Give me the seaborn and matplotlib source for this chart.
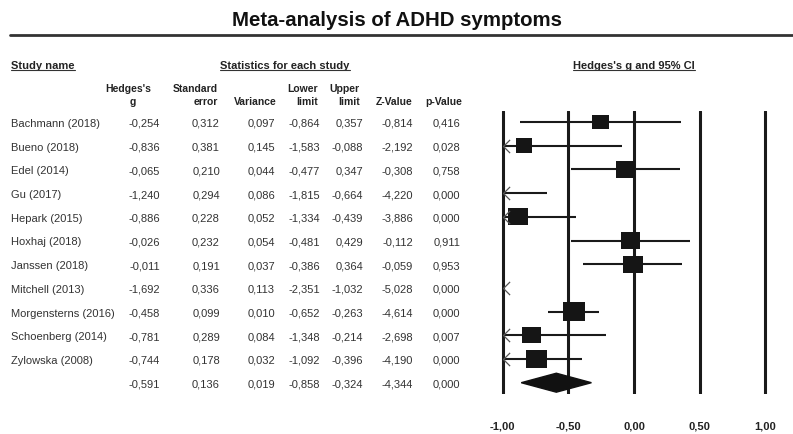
import numpy as np
import pandas as pd
import seaborn as sns
import matplotlib.pyplot as plt
from matplotlib.lines import Line2D
from matplotlib.patches import Polygon
from matplotlib.path import Path
from matplotlib.markers import MarkerStyle

studies = ["Bachmann (2018)", "Bueno (2018)", "Edel (2014)", "Gu (2017)", "Hepark (2015)",
           "Hoxhaj (2018)", "Janssen (2018)", "Mitchell (2013)", "Morgensterns (2016)",
           "Schoenberg (2014)", "Zylowska (2008)"]
hedges_g = [-0.254, -0.836, -0.065, -1.240, -0.886, -0.026, -0.011, -1.692, -0.458, -0.781, -0.744]
std_err = [0.312, 0.381, 0.210, 0.294, 0.228, 0.232, 0.191, 0.336, 0.099, 0.289, 0.178]
variance = [0.097, 0.145, 0.044, 0.086, 0.052, 0.054, 0.037, 0.113, 0.010, 0.084, 0.032]
lower = [-0.864, -1.583, -0.477, -1.815, -1.334, -0.481, -0.386, -2.351, -0.652, -1.348, -1.092]
upper = [0.357, -0.088, 0.347, -0.664, -0.439, 0.429, 0.364, -1.032, -0.263, -0.214, -0.396]
z_value = [-0.814, -2.192, -0.308, -4.220, -3.886, -0.112, -0.059, -5.028, -4.614, -2.698, -4.190]
p_value = [0.416, 0.028, 0.758, 0.000, 0.000, 0.911, 0.953, 0.000, 0.000, 0.007, 0.000]
# relative box weight (box width in px)
box_weight = [16.7, 16.7, 18.7, 18.0, 20.0, 19.0, 20.0, 18.0, 21.7, 18.3, 20.7]

summary = [-0.591, 0.136, 0.019, -0.858, -0.324, -4.344, 0.000]  # g, se, var, lower, upper, z, p

x_ticks = [-1.0, -0.5, 0.0, 0.5, 1.0]
tick_labels = ["-1,00", "-0,50", "0,00", "0,50", "1,00"]

sns.set_theme(style="white")
plt.rcParams["font.family"] = ["Liberation Sans", "DejaVu Sans"]

W, H = 793, 435
fig = plt.figure(figsize=(W / 100, H / 100), dpi=100)

# vertical layout in px
row0, step = 123, 23.7
y_top, y_bot = 111.7, 395
ylim = ((y_bot - row0) / step, (y_top - row0) / step)
def px_row(py):
    return (py - row0) / step

base = 4.0 / step  # baseline sits ~4px below the row centre

ax = fig.add_axes([496 / W, 1 - y_bot / H, 276 / W, (y_bot - y_top) / H])
tab = fig.add_axes([0, 1 - y_bot / H, 1, (y_bot - y_top) / H], zorder=-1)
tab.set_xlim(0, W)
tab.set_ylim(*ylim)
tab.axis("off")

dark = "#1a1a1a"
txt = "#333333"
VA = "baseline"

# title and rule
fig.text(0.5, 1 - 18 / H, "Meta-analysis of ADHD symptoms", ha="center", va="center_baseline",
         fontsize=14.7, fontweight="bold", color="#111111")
fig.add_artist(Line2D([10 / W, 1], [1 - 36 / H] * 2, transform=fig.transFigure,
                      color="#333333", lw=2.0))

# section headers
hk = dict(va=VA, fontsize=8, fontweight="bold", color="#222")
headers = [
    tab.text(11, px_row(65) + base, "Study name", ha="left", **hk),
    tab.text(285, px_row(65) + base, "Statistics for each study", ha="center", **hk),
    tab.text(634, px_row(65) + base, "Hedges's g and 95% CI", ha="center", **hk),
]

# column headers
col_right = [160, 220, 275, 320, 363, 413, 460]
col_head = [("Hedges's", "g"), ("Standard", "error"), ("", "Variance"), ("Lower", "limit"),
            ("Upper", "limit"), ("", "Z-Value"), ("", "p-Value")]
head_right = [148, 218, 277, 318, 360, 413, 462]
ck = dict(va=VA, fontsize=7.5, fontweight="bold", color="#222")
for (l1, l2), xr in zip(col_head, head_right):
    if l1 == "Hedges's":
        tab.text(128, px_row(88) + base, l1, ha="center", **ck)
        tab.text(133, px_row(101) + base, l2, ha="center", **ck)
        continue
    if l1:
        tab.text(xr, px_row(88) + base, l1, ha="right", **ck)
    tab.text(xr, px_row(101) + base, l2, ha="right", **ck)

def fmt(v):
    return f"{v:.3f}".replace(".", ",")

columns = [hedges_g, std_err, variance, lower, upper, z_value, p_value]
for i, name in enumerate(studies):
    tab.text(11, i + base, name, ha="left", va=VA, fontsize=8, color=txt)
    for col, xr in zip(columns, col_right):
        tab.text(xr, i + base, fmt(col[i]), ha="right", va=VA, fontsize=8, color=txt)
n = len(studies)
for v, xr in zip(summary, col_right):
    tab.text(xr, n + base, fmt(v), ha="right", va=VA, fontsize=8, color=txt)

# forest plot
df = pd.DataFrame({"row": np.arange(n), "g": hedges_g, "lo": lower, "hi": upper, "w": box_weight})
for xt in x_ticks:
    ax.axvline(xt, color=dark, lw=2.2, zorder=1)

vis = df[df.hi > x_ticks[0]]
ax.hlines(vis.row, vis.lo.clip(x_ticks[0], x_ticks[-1]), vis.hi.clip(x_ticks[0], x_ticks[-1]),
          color=dark, lw=1.5, zorder=2)

chev = MarkerStyle(Path([(1, 1), (0, 0), (1, -1)], [Path.MOVETO, Path.LINETO, Path.LINETO]))
cut = df[df.lo < x_ticks[0]]
ax.plot(np.full(len(cut), x_ticks[0]), cut.row, ls="none", marker=chev, ms=9.5,
        mfc="none", mec="#555555", mew=0.9, zorder=4)

rect = [(-1.15, -1), (1.15, -1), (1.15, 1), (-1.15, 1), (-1.15, -1)]
boxes = df[df.g >= x_ticks[0]]
sns.scatterplot(data=boxes, x="g", y="row", marker=rect, s=(boxes.w * 0.72) ** 2,
                color="#151515", edgecolor="none", legend=False, ax=ax, zorder=3)

g_s, lo_s, hi_s = summary[0], summary[3], summary[4]
ax.add_patch(Polygon([(lo_s, n), (g_s, n - 0.4), (hi_s, n), (g_s, n + 0.4)],
                     closed=True, color="#111111", zorder=3))

ax.set_xlim(-1.05, 1.05)
ax.set_ylim(*ylim)
ax.set_xticks(x_ticks, tick_labels)
for lbl in ax.get_xticklabels():
    lbl.set_fontweight("bold")
ax.tick_params(axis="x", length=0, pad=19, labelsize=8, labelcolor="#222")
ax.set_yticks([])
ax.set_xlabel("")
ax.set_ylabel("")
for s in ax.spines.values():
    s.set_visible(False)
ax.patch.set_alpha(0)

# underline the section headers
fig.canvas.draw()
r = fig.canvas.get_renderer()
for t in headers:
    bb = t.get_window_extent(r)
    yy = (bb.y0 + 0.5) / fig.bbox.height
    fig.add_artist(Line2D([bb.x0 / fig.bbox.width, bb.x1 / fig.bbox.width], [yy, yy],
                          transform=fig.transFigure, color="#333", lw=0.8))

fig.savefig("out.png", dpi=100)
